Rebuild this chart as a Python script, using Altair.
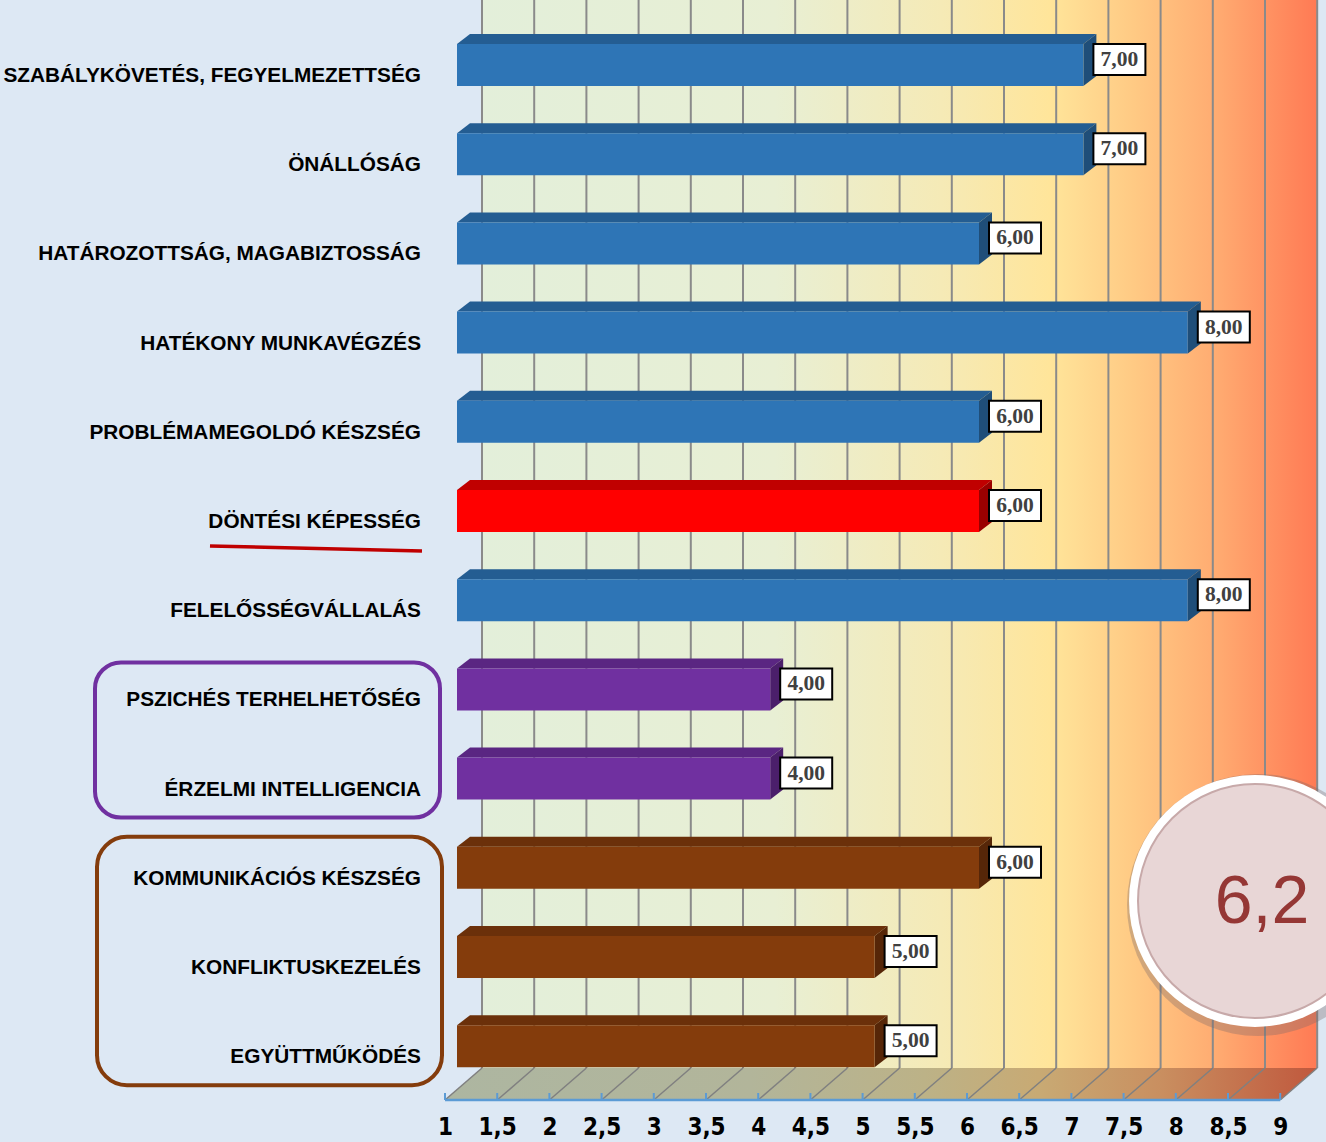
import altair as alt
import pandas as pd

# ---------------- data ----------------
categories = [
    "Szabálykövetés,  fegyelmezettség",
    "Önállóság",
    "Határozottság,  magabiztosság",
    "Hatékony munkavégzés",
    "Problémamegoldó készség",
    "Döntési képesség",
    "Felelősségvállalás",
    "Pszichés  terhelhetőség",
    "Érzelmi  intelligencia",
    "Kommunikációs  készség",
    "Konfliktuskezelés",
    "Együttműködés",
]
values = [7, 7, 6, 8, 6, 6, 8, 4, 4, 6, 5, 5]
groups = ["blue", "blue", "blue", "blue", "blue", "red", "blue",
          "purple", "purple", "brown", "brown", "brown"]
tick_values = [1, 1.5, 2, 2.5, 3, 3.5, 4, 4.5, 5, 5.5, 6, 6.5, 7, 7.5, 8, 8.5, 9]
average_label = "6,2"
purple_group = ["Pszichés  terhelhetőség", "Érzelmi  intelligencia"]
brown_group = ["Kommunikációs  készség", "Együttműködés"]
highlight = "Döntési képesség"

# ---------------- styling / geometry constants ----------------
W, H = 1326, 1100
PX_X = 104.4          # pixels per value unit
X_FRONT_1 = 445       # pixel of value 1 on the front axis
XMIN = 1 - X_FRONT_1 / PX_X
XMAX = XMIN + W / PX_X
PX_ROW = 89.2         # pixels per category row
ROW0 = 65             # pixel centre of first row
YMIN = -ROW0 / PX_ROW
YMAX = YMIN + H / PX_ROW
WALL_DX, WALL_DY = 37, 32
BAR_DX = 12
DEPTH_DX, DEPTH_DY = 13, 10
BAR_HALF = 21

PALETTE = {
    "blue": ("#2e75b6", "#245d92", "#1f4e79"),
    "red": ("#ff0000", "#c00000", "#9a0000"),
    "purple": ("#7030a0", "#5a2682", "#4b1f6b"),
    "brown": ("#843c0c", "#6b300a", "#562608"),
}
color_domain, color_range = [], []
for g, cols in PALETTE.items():
    for face, c in zip(["front", "top", "side"], cols):
        color_domain.append(f"{g}-{face}")
        color_range.append(c)
CSCALE = alt.Scale(domain=color_domain, range=color_range)

XS = alt.Scale(domain=[XMIN, XMAX], nice=False, zero=False)
YS = alt.Scale(domain=[YMIN, YMAX], nice=False, zero=False, reverse=True)
XAXIS = alt.Axis(values=tick_values, labelExpr="replace(toString(datum.value), '.', ',')",
                 domain=False, ticks=False, tickSize=0, grid=False, title=None,
                 labelFont="Liberation Sans Narrow, Arial Narrow, DejaVu Sans Condensed, Liberation Sans, sans-serif",
                 labelFontWeight="bold", labelFontSize=24, labelColor="#000000",
                 labelPadding=15, labelOverlap=False, labelFlush=False)


def X(f):
    return alt.X(f, type="quantitative", scale=XS, axis=XAXIS)


def Y(f):
    return alt.Y(f, type="quantitative", scale=YS, axis=None)


# ---------------- derived tables ----------------
rows = list(range(len(categories)))
bars = pd.DataFrame({
    "row": rows,
    "value": values,
    "start": [1] * len(values),
    "group": groups,
    "label": [c.upper() for c in categories],
    "text": [f"{v:.2f}".replace(".", ",") for v in values],
})
bars["front"] = bars["group"] + "-front"

dxu = DEPTH_DX / PX_X
dyr = DEPTH_DY / PX_ROW
hr = BAR_HALF / PX_ROW
top_pts, side_pts = [], []
for r, v, g in zip(rows, values, groups):
    yt, yb = r - hr, r + hr
    for x, y, y2 in [(1, yt, yt), (1 + dxu, yt - dyr, yt), (v, yt - dyr, yt), (v + dxu, yt - dyr, yt - dyr)]:
        top_pts.append({"row": r, "x": x, "y": y, "y2": y2, "key": f"{g}-top"})
    for x, y, y2 in [(v, yt, yb), (v + dxu, yt - dyr, yb - dyr)]:
        side_pts.append({"row": r, "x": x, "y": y, "y2": y2, "key": f"{g}-side"})
top_df = pd.DataFrame(top_pts)
side_df = pd.DataFrame(side_pts)

ticks_df = pd.DataFrame({"t": tick_values, "ytop": YMIN, "ybot": YMAX})
wall_df = pd.DataFrame({"x": [tick_values[0]], "x2": [tick_values[-1]], "y": [YMIN], "y2": [YMAX]})
wdx = WALL_DX / PX_X
ybk = YMAX - WALL_DY / PX_ROW
x0, x1 = tick_values[0], tick_values[-1]
floor_df = pd.DataFrame({
    "x": [x0, x0 + wdx, x1, x1 + wdx],
    "y": [YMAX, ybk, ybk, ybk],
    "y2": [YMAX, YMAX, YMAX, ybk],
})

wall_grad = alt.Gradient(gradient="linear", x1=0, x2=1, y1=0, y2=0, stops=[
    alt.GradientStop(color="#e3efda", offset=0),
    alt.GradientStop(color="#e8efd4", offset=0.35),
    alt.GradientStop(color="#f5eab6", offset=0.55),
    alt.GradientStop(color="#ffe59a", offset=0.68),
    alt.GradientStop(color="#ffca84", offset=0.78),
    alt.GradientStop(color="#ffab71", offset=0.88),
    alt.GradientStop(color="#ff7a54", offset=1),
])
floor_grad = alt.Gradient(gradient="linear", x1=0, x2=1, y1=0, y2=0, stops=[
    alt.GradientStop(color="#adb6a1", offset=0),
    alt.GradientStop(color="#b2b59a", offset=0.35),
    alt.GradientStop(color="#bcb287", offset=0.55),
    alt.GradientStop(color="#c8aa74", offset=0.68),
    alt.GradientStop(color="#c98f60", offset=0.82),
    alt.GradientStop(color="#c0583d", offset=1),
])

# ---------------- layers ----------------
wall = alt.Chart(wall_df).mark_rect(fill=wall_grad, xOffset=WALL_DX, x2Offset=WALL_DX,
                                    y2Offset=-WALL_DY).encode(
    x=X("x"), x2="x2", y=Y("y"), y2="y2")

wall_grid = alt.Chart(ticks_df).mark_rule(color="#8a8a8a", strokeWidth=2, xOffset=WALL_DX,
                                          y2Offset=-WALL_DY).encode(
    x=X("t"), y=Y("ytop"), y2="ybot")

floor = alt.Chart(floor_df).mark_area(orient="vertical", fill=floor_grad).encode(
    x=X("x"), y=Y("y"), y2="y2")

floor_lines = alt.Chart(ticks_df).mark_rule(color="#808080", strokeWidth=1.5, x2Offset=WALL_DX,
                                            y2Offset=-WALL_DY).encode(
    x=X("t"), x2="t", y=Y("ybot"), y2="ybot")

axis_line = alt.Chart(wall_df).mark_rule(color="#5b9bd5", strokeWidth=2.5).encode(
    x=X("x"), x2="x2", y=Y("y2"))

axis_ticks = alt.Chart(ticks_df).mark_rule(color="#5b9bd5", strokeWidth=2, y2Offset=-7).encode(
    x=X("t"), y=Y("ybot"), y2="ybot")

top_face = alt.Chart(top_df).mark_area(orient="vertical", xOffset=BAR_DX).encode(
    x=X("x"), y=Y("y"), y2="y2", detail="row:N",
    color=alt.Color("key:N", scale=CSCALE, legend=None))

side_face = alt.Chart(side_df).mark_area(orient="vertical", xOffset=BAR_DX).encode(
    x=X("x"), y=Y("y"), y2="y2", detail="row:N",
    color=alt.Color("key:N", scale=CSCALE, legend=None))

front_face = alt.Chart(bars).mark_rect(xOffset=BAR_DX, x2Offset=BAR_DX,
                                       yOffset=-BAR_HALF, y2Offset=BAR_HALF).encode(
    x=X("start"), x2="value", y=Y("row"), y2="row",
    color=alt.Color("front:N", scale=CSCALE, legend=None))

value_box = alt.Chart(bars).mark_rect(fill="white", stroke="black", strokeWidth=2,
                                      xOffset=BAR_DX + 10, x2Offset=BAR_DX + 62,
                                      yOffset=-21, y2Offset=10).encode(
    x=X("value"), x2="value", y=Y("row"), y2="row")

value_text = alt.Chart(bars).mark_text(font="Liberation Serif, Times New Roman, serif",
                                       fontWeight="bold", fontSize=21.5, color="#404040",
                                       xOffset=BAR_DX + 36, yOffset=-5, baseline="middle",
                                       align="center").encode(
    x=X("value"), y=Y("row"), text="text:N")

cat_labels = alt.Chart(bars).mark_text(font="Liberation Sans, Arial, sans-serif", fontWeight="bold",
                                       fontSize=20.8, color="#000000", align="right",
                                       baseline="middle", dy=11).encode(
    x=alt.value(421), y=Y("row"), text="label:N")

hi_row = categories.index(highlight)
underline_df = pd.DataFrame({"row": [hi_row]})
underline = alt.Chart(underline_df).mark_rule(color="#c00000", strokeWidth=3.5,
                                              yOffset=35, y2Offset=40).encode(
    x=alt.value(210), x2=alt.value(422), y=Y("row"), y2="row")

box_df = pd.DataFrame({
    "r0": [categories.index(purple_group[0]), categories.index(brown_group[0])],
    "r1": [categories.index(purple_group[1]), categories.index(brown_group[1])],
    "grp": ["purple", "brown"],
})
purple_box = alt.Chart(box_df[box_df.grp == "purple"]).mark_rect(
    fillOpacity=0, stroke="#7030a0", strokeWidth=4, cornerRadius=26,
    yOffset=-27, y2Offset=39).encode(
    x=alt.value(95), x2=alt.value(440), y=Y("r0"), y2="r1")
brown_box = alt.Chart(box_df[box_df.grp == "brown"]).mark_rect(
    fillOpacity=0, stroke="#843c0c", strokeWidth=4, cornerRadius=30,
    yOffset=-31, y2Offset=39).encode(
    x=alt.value(97), x2=alt.value(442), y=Y("r0"), y2="r1")

badge_df = pd.DataFrame({"label": [average_label]})
badge_shadow = alt.Chart(badge_df).mark_point(shape="circle", filled=True, fill="#7a6a6a",
                                              opacity=0.35, size=262 ** 2, strokeWidth=0).encode(
    x=alt.value(1258), y=alt.value(905))
badge_ring = alt.Chart(badge_df).mark_point(shape="circle", filled=True, fill="#ffffff",
                                            opacity=1, size=252 ** 2, strokeWidth=0).encode(
    x=alt.value(1255), y=alt.value(901))
badge_inner = alt.Chart(badge_df).mark_point(shape="circle", filled=True, fill="#e8d6d6",
                                             opacity=1, size=234 ** 2, stroke="#c7a9a9",
                                             strokeWidth=2).encode(
    x=alt.value(1255), y=alt.value(901))
badge_text = alt.Chart(badge_df).mark_text(font="Liberation Sans, Arial, sans-serif", fontSize=68,
                                           color="#953735", align="center", baseline="middle").encode(
    x=alt.value(1262), y=alt.value(903), text="label:N")

chart = alt.layer(
    wall, wall_grid, floor, floor_lines, axis_line, axis_ticks,
    top_face, side_face, front_face, value_box, value_text,
    cat_labels, underline, purple_box, brown_box,
    badge_shadow, badge_ring, badge_inner, badge_text,
).properties(
    width=W, height=H,
    padding={"left": 0, "top": 0, "right": 0, "bottom": 42},
    autosize=alt.AutoSizeParams(type="none"),
    background="#dde8f4",
).configure_view(strokeOpacity=0)

chart.save("out.html", embed_options={"renderer": "svg", "actions": False})
